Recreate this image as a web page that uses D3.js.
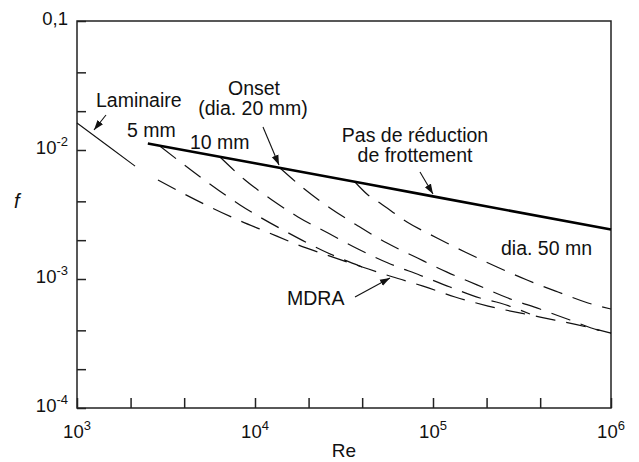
<!DOCTYPE html>
<html>
<head>
<meta charset="utf-8">
<script src="https://cdn.jsdelivr.net/npm/d3@7"></script>
<style>
    body { margin: 0; background: #fff; }
    text { font-family: "Liberation Sans", Arial, sans-serif; fill: #111; }
</style>
</head>
<body>
<div class="chart"></div>
<script>
// tick values (log axes, ticks at 1, 2, 4 of each decade)
const reTicks = [1e3, 2e3, 4e3, 1e4, 2e4, 4e4, 1e5, 2e5, 4e5, 1e6]
const fTicks = [1e-4, 2e-4, 4e-4, 1e-3, 2e-3, 4e-3, 1e-2, 2e-2, 4e-2, 1e-1]
const reLabelValues = [1e3, 1e4, 1e5, 1e6]
const reLabelExps = ["3", "4", "5", "6"]
const fLabelValues = [1e-4, 1e-3, 1e-2, 1e-1]
const fLabelBases = ["10", "10", "10", "0,1"]
const fLabelExps = ["-4", "-3", "-2", ""]

// laminaire
const laminarRe = [1000, 1500, 2120]
const laminarF = [0.0162, 0.0107, 0.0075]
// pas de reduction de frottement
const newtRe = [2500, 10000, 100000, 1000000]
const newtF = [0.01123, 0.0079, 0.00437, 0.00242]
// MDRA
const mdraRe = [2850, 5300, 7800, 11700, 17400, 25400, 40000, 59000, 88000, 133000, 204000, 400000, 733000, 1000000]
const mdraF = [0.00585, 0.00375, 0.00292, 0.00231, 0.00184, 0.00153, 0.00124, 0.00104, 0.00088, 0.000725, 0.000617, 0.000507, 0.000424, 0.000381]
// diametres
const d5Re = [2930, 5100, 8240, 15100, 25700, 39900]
const d5F = [0.0107, 0.00596, 0.00375, 0.00231, 0.00159, 0.00124]
const d10Re = [6360, 8790, 12460, 17440, 25720, 37900, 55900, 84500, 124600, 183700, 237900, 350600]
const d10F = [0.00882, 0.00585, 0.0041, 0.00303, 0.00227, 0.00171, 0.00133, 0.00107, 0.000867, 0.000712, 0.000652, 0.000535]
const d20Re = [13820, 18610, 26380, 37900, 55150, 81330, 119900, 176700, 263800, 399100, 588300, 845300, 1000000]
const d20F = [0.00725, 0.00508, 0.00355, 0.00258, 0.0019, 0.00146, 0.00113, 0.0009, 0.000712, 0.000585, 0.000481, 0.000402, 0.000381]
const d50Re = [36460, 43130, 50380, 71430, 105300, 151300, 228900, 337500, 503800, 742800, 1000000]
const d50F = [0.00565, 0.00448, 0.00388, 0.00277, 0.00208, 0.00162, 0.00124, 0.000982, 0.000793, 0.000652, 0.000585]

const width = 639
const height = 462
const margin = {top: 21, right: 28, bottom: 54, left: 77}

const svg = d3.select(".chart")
    .append("svg")
    .attr("width", width)
    .attr("height", height)

const x = d3.scaleLog().domain([1e3, 1e6]).range([margin.left, width - margin.right])
const y = d3.scaleLog().domain([1e-4, 1e-1]).range([height - margin.bottom, margin.top])

svg.append("defs").append("marker")
    .attr("id", "arrow")
    .attr("viewBox", "0 -4 10 8")
    .attr("refX", 10)
    .attr("refY", 0)
    .attr("markerUnits", "userSpaceOnUse")
    .attr("markerWidth", 10)
    .attr("markerHeight", 8)
    .attr("orient", "auto")
    .append("path")
    .attr("d", "M0,-3.5L10,0L0,3.5Z")
    .attr("fill", "#111")

// ticks pointing inward
svg.append("g")
    .attr("transform", `translate(0,${height - margin.bottom})`)
    .call(d3.axisBottom(x).tickValues(reTicks).tickFormat("").tickSizeInner(-10).tickSizeOuter(0))
    .call(g => g.select(".domain").remove())
    .selectAll("line").attr("stroke", "#222").attr("stroke-width", 1.5)

svg.append("g")
    .attr("transform", `translate(${margin.left},0)`)
    .call(d3.axisLeft(y).tickValues(fTicks).tickFormat("").tickSizeInner(-9).tickSizeOuter(0))
    .call(g => g.select(".domain").remove())
    .selectAll("line").attr("stroke", "#222").attr("stroke-width", 1.5)

svg.append("rect")
    .attr("x", margin.left)
    .attr("y", margin.top)
    .attr("width", width - margin.left - margin.right)
    .attr("height", height - margin.top - margin.bottom)
    .attr("fill", "none")
    .attr("stroke", "#222")
    .attr("stroke-width", 1.5)

// tick labels
const xl = svg.append("g").selectAll("text")
    .data(reLabelValues)
    .join("text")
    .attr("x", d => x(d))
    .attr("y", height - margin.bottom + 30)
    .attr("text-anchor", "middle")
    .style("font-size", "18.5px")
xl.append("tspan").text("10")
xl.append("tspan").attr("dy", -8).style("font-size", "13px").text((d, i) => reLabelExps[i])

const yl = svg.append("g").selectAll("text")
    .data(fLabelValues)
    .join("text")
    .attr("x", margin.left - 9)
    .attr("y", d => y(d) + 4)
    .attr("text-anchor", "end")
    .style("font-size", "18.5px")
yl.append("tspan").text((d, i) => fLabelBases[i])
yl.append("tspan").attr("dy", -8).style("font-size", "13px").text((d, i) => fLabelExps[i])

svg.append("text")
    .attr("x", (margin.left + width - margin.right) / 2)
    .attr("y", 457)
    .attr("text-anchor", "middle")
    .style("font-size", "19px")
    .text("Re")

svg.append("text")
    .attr("x", 14)
    .attr("y", 208)
    .style("font-size", "20px")
    .style("font-style", "italic")
    .text("f")

// curves
const line = d3.line()
    .x(d => x(d[0]))
    .y(d => y(d[1]))
    .curve(d3.curveMonotoneX)

const zip = (a, b) => a.map((v, i) => [v, b[i]])

const plot = svg.append("g")

plot.append("path")
    .attr("d", line(zip(laminarRe, laminarF)))
    .attr("fill", "none")
    .attr("stroke", "#111")
    .attr("stroke-width", 1.1)

const dashed = [[mdraRe, mdraF], [d5Re, d5F], [d10Re, d10F], [d20Re, d20F], [d50Re, d50F]]
plot.selectAll(".dash")
    .data(dashed)
    .join("path")
    .attr("class", "dash")
    .attr("d", d => line(zip(d[0], d[1])))
    .attr("fill", "none")
    .attr("stroke", "#111")
    .attr("stroke-width", 1.2)
    .attr("stroke-dasharray", "20,11")

plot.append("path")
    .attr("d", line(zip(newtRe, newtF)))
    .attr("fill", "none")
    .attr("stroke", "#000")
    .attr("stroke-width", 2.6)

// annotations
const note = (tx, ty, s, anchor) => svg.append("text")
    .attr("x", tx).attr("y", ty)
    .attr("text-anchor", anchor || "start")
    .style("font-size", "19.5px")
    .text(s)

note(96, 107, "Laminaire")
note(254, 95, "Onset", "middle")
note(253, 115, "(dia. 20 mm)", "middle")
note(127, 137, "5 mm")
note(190, 149, "10 mm")
note(415, 142, "Pas de réduction", "middle")
note(415, 162, "de frottement", "middle")
note(501, 255, "dia. 50 mn")
note(287, 305, "MDRA")

// arrows: [fromRe, fromF, toRe, toF]
const arrows = [
    [1455, 0.01868, 1246, 0.01429],
    [11090, 0.01508, 13640, 0.00765],
    [84500, 0.00675, 100000, 0.00456],
    [36460, 0.000725, 57330, 0.001018]
]
svg.append("g").selectAll("line")
    .data(arrows)
    .join("line")
    .attr("x1", d => x(d[0]))
    .attr("y1", d => y(d[1]))
    .attr("x2", d => x(d[2]))
    .attr("y2", d => y(d[3]))
    .attr("stroke", "#111")
    .attr("stroke-width", 1.1)
    .attr("marker-end", "url(#arrow)")
</script>
</body>
</html>
